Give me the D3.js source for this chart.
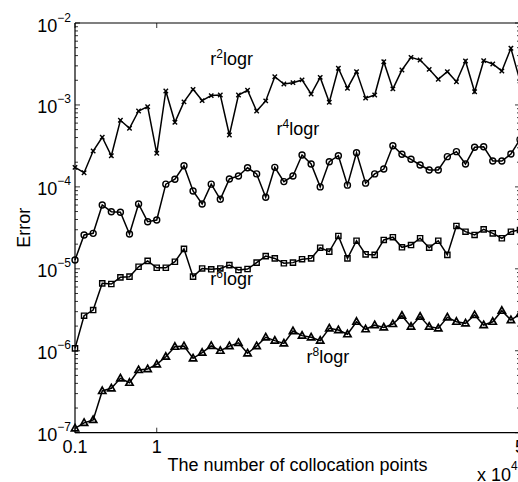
<!DOCTYPE html>
<html>
<head>
<meta charset="utf-8">
<script src="https://cdn.jsdelivr.net/npm/d3@7"></script>
<style>
  html, body { margin: 0; padding: 0; background: #fff; }
  svg { display: block; font-family: "Liberation Sans", Arial, Helvetica, sans-serif; }
</style>
</head>
<body>
<svg id="chart" width="518" height="482"></svg>
<script>
// Number of collocation points (in units of 10^4)
const points = [0.1, 0.2, 0.3, 0.4, 0.5, 0.6, 0.7, 0.8, 0.9, 1.0,
                1.1, 1.2, 1.3, 1.4, 1.5, 1.6, 1.7, 1.8, 1.9, 2.0,
                2.1, 2.2, 2.3, 2.4, 2.5, 2.6, 2.7, 2.8, 2.9, 3.0,
                3.1, 3.2, 3.3, 3.4, 3.5, 3.6, 3.7, 3.8, 3.9, 4.0,
                4.1, 4.2, 4.3, 4.4, 4.5, 4.6, 4.7, 4.8, 4.9, 5.0];

// Error for the r^2 log r basis
const errR2 = [1.73e-4, 1.49e-4, 2.74e-4, 4.03e-4, 2.40e-4, 6.50e-4, 5.19e-4, 8.43e-4, 9.52e-4, 2.57e-4,
               1.48e-3, 6.14e-4, 1.09e-3, 1.55e-3, 1.13e-3, 1.30e-3, 1.32e-3, 4.30e-4, 1.32e-3, 1.51e-3,
               8.43e-4, 1.12e-3, 2.21e-3, 1.80e-3, 1.87e-3, 2.02e-3, 1.36e-3, 2.17e-3, 1.08e-3, 2.80e-3,
               1.60e-3, 2.55e-3, 1.21e-3, 1.32e-3, 3.37e-3, 1.57e-3, 2.67e-3, 3.81e-3, 3.53e-3, 2.72e-3,
               2.06e-3, 2.55e-3, 1.92e-3, 3.44e-3, 1.45e-3, 3.47e-3, 3.16e-3, 2.60e-3, 4.91e-3, 1.96e-3];

// Error for the r^4 log r basis
const errR4 = [1.28e-5, 2.59e-5, 2.71e-5, 6.01e-5, 4.98e-5, 4.90e-5, 2.66e-5, 6.18e-5, 3.76e-5, 3.94e-5,
               1.08e-4, 1.24e-4, 1.81e-4, 8.91e-5, 6.18e-5, 1.08e-4, 7.05e-5, 1.25e-4, 1.36e-4, 1.71e-4,
               1.44e-4, 7.46e-5, 1.73e-4, 1.16e-4, 1.36e-4, 2.45e-4, 1.90e-4, 1.00e-4, 2.03e-4, 2.40e-4,
               1.05e-4, 2.61e-4, 1.11e-4, 1.44e-4, 1.65e-4, 3.18e-4, 2.50e-4, 2.17e-4, 1.85e-4, 1.61e-4,
               1.61e-4, 2.34e-4, 2.69e-4, 1.90e-4, 3.04e-4, 3.09e-4, 2.07e-4, 2.07e-4, 2.52e-4, 3.79e-4];

// Error for the r^6 log r basis
const errR6 = [1.07e-6, 2.68e-6, 3.14e-6, 6.65e-6, 6.53e-6, 7.87e-6, 8.02e-6, 1.06e-5, 1.25e-5, 1.03e-5,
               1.03e-5, 1.22e-5, 1.75e-5, 8.02e-6, 1.01e-5, 9.87e-6, 1.01e-5, 1.11e-5, 9.68e-6, 9.95e-6,
               1.19e-5, 1.43e-5, 1.34e-5, 1.17e-5, 1.19e-5, 1.31e-5, 1.34e-5, 1.81e-5, 1.62e-5, 2.52e-5,
               1.34e-5, 2.20e-5, 1.50e-5, 1.48e-5, 2.25e-5, 2.43e-5, 1.83e-5, 1.95e-5, 2.36e-5, 1.81e-5,
               2.20e-5, 1.48e-5, 3.33e-5, 2.84e-5, 2.59e-5, 3.03e-5, 2.71e-5, 2.36e-5, 2.84e-5, 2.98e-5];

// Error for the r^8 log r basis
const errR8 = [1.13e-7, 1.32e-7, 1.43e-7, 3.23e-7, 3.48e-7, 4.61e-7, 4.07e-7, 5.82e-7, 5.98e-7, 6.84e-7,
               8.46e-7, 1.12e-6, 1.14e-6, 8.09e-7, 9.47e-7, 1.15e-6, 1.00e-6, 1.14e-6, 1.25e-6, 9.31e-7,
               1.14e-6, 1.46e-6, 1.33e-6, 1.23e-6, 1.74e-6, 1.53e-6, 1.46e-6, 1.33e-6, 1.88e-6, 1.79e-6,
               1.59e-6, 2.26e-6, 1.83e-6, 2.06e-6, 1.93e-6, 2.12e-6, 2.68e-6, 1.97e-6, 2.61e-6, 1.97e-6,
               1.88e-6, 2.56e-6, 2.26e-6, 2.16e-6, 2.73e-6, 2.06e-6, 2.26e-6, 3.08e-6, 2.37e-6, 2.81e-6];

const xTicks = [0.1, 1, 5];
const yTickExps = [-7, -6, -5, -4, -3, -2];

// Curve labels: power of r and the label's baseline anchor in data units
const seriesNames = ["2", "4", "6", "8"];
const labelAt = [[1.59, 3.07e-3], [2.32, 4.30e-4], [1.59, 6.35e-6], [2.65, 7.09e-7]];

const svg = d3.select("#chart");
const x0 = 75, x1 = 520, y0 = 432.7, y1 = 23;

const x = d3.scaleLinear().domain([0.1, 5]).range([x0, x1]);
const y = d3.scaleLog().domain([1e-7, 1e-2]).range([y0, y1]);

const black = "#000";

// Axes box
const axes = svg.append("g");
axes.append("line").attr("x1", x0).attr("x2", x1).attr("y1", y0).attr("y2", y0);
axes.append("line").attr("x1", x0).attr("x2", x1).attr("y1", y1).attr("y2", y1);
axes.append("line").attr("x1", x0).attr("x2", x0).attr("y1", y0).attr("y2", y1);
axes.append("line").attr("x1", x1).attr("x2", x1).attr("y1", y0).attr("y2", y1);
axes.selectAll("line").attr("stroke", black).attr("stroke-width", 1.2);

// Y ticks: major at decades, minor at 2..9 of each decade
const majorLen = 5, minorLen = 3;
const yMinor = [];
for (let e = -7; e < -2; e++) for (let m = 2; m <= 9; m++) yMinor.push(m * Math.pow(10, e));
const tickG = svg.append("g").attr("stroke", black).attr("stroke-width", 0.8);
yTickExps.forEach(e => {
  const yy = y(Math.pow(10, e));
  tickG.append("line").attr("x1", x0).attr("x2", x0 + majorLen).attr("y1", yy).attr("y2", yy);
  tickG.append("line").attr("x1", x1).attr("x2", x1 - majorLen).attr("y1", yy).attr("y2", yy);
});
yMinor.forEach(v => {
  const yy = y(v);
  tickG.append("line").attr("x1", x0).attr("x2", x0 + minorLen).attr("y1", yy).attr("y2", yy);
  tickG.append("line").attr("x1", x1).attr("x2", x1 - minorLen).attr("y1", yy).attr("y2", yy);
});
xTicks.forEach(t => {
  const xx = x(t);
  tickG.append("line").attr("x1", xx).attr("x2", xx).attr("y1", y0).attr("y2", y0 - majorLen);
  tickG.append("line").attr("x1", xx).attr("x2", xx).attr("y1", y1).attr("y2", y1 + majorLen);
});

// Y tick labels as 10^e
yTickExps.forEach(e => {
  const yy = y(Math.pow(10, e));
  const t = svg.append("text")
    .attr("x", x0 - 4).attr("y", yy + 8.5)
    .attr("text-anchor", "end")
    .attr("font-size", 18).attr("fill", black)
    .text("10");
  t.append("tspan").attr("dy", -10).attr("font-size", 12).text("\u2212" + Math.abs(e));
});

// X tick labels
xTicks.forEach(t => {
  svg.append("text")
    .attr("x", x(t)).attr("y", 453)
    .attr("text-anchor", "middle")
    .attr("font-size", 18).attr("fill", black)
    .text(String(t));
});

// Exponent multiplier for the x axis
const mult = svg.append("text")
  .attr("x", 477).attr("y", 481)
  .attr("font-size", 18).attr("fill", black)
  .text("x 10");
mult.append("tspan").attr("dy", -11).attr("font-size", 12).text("4");

// Axis titles
svg.append("text")
  .attr("x", (x0 + x1) / 2).attr("y", 471)
  .attr("text-anchor", "middle")
  .attr("font-size", 18).attr("fill", black)
  .text("The number of collocation points");

svg.append("text")
  .attr("transform", `translate(30,${(y0 + y1) / 2}) rotate(-90)`)
  .attr("text-anchor", "middle")
  .attr("font-size", 18).attr("fill", black)
  .text("Error");

// Marker paths
const circlePath = (() => { const p = d3.path(); p.arc(0, 0, 3, 0, 2 * Math.PI); return p.toString(); })();
const markers = {
  x: "M-2.2,-2.2L2.2,2.2M-2.2,2.2L2.2,-2.2",
  o: circlePath,
  s: "M-2.6,-2.6H2.6V2.6H-2.6Z",
  t: "M0,-3.9L3.6,2.5H-3.6Z"
};

const series = [
  { values: errR2, marker: "x" },
  { values: errR4, marker: "o" },
  { values: errR6, marker: "s" },
  { values: errR8, marker: "t" }
];

const line = d3.line().x(d => x(d[0])).y(d => y(d[1]));

series.forEach(s => {
  const data = points.map((p, i) => [p, s.values[i]]);
  const g = svg.append("g");
  g.append("path")
    .attr("d", line(data))
    .attr("fill", "none")
    .attr("stroke", black)
    .attr("stroke-width", 1.5)
    .attr("stroke-linejoin", "miter");
  g.selectAll("path.m")
    .data(data)
    .join("path")
    .attr("class", "m")
    .attr("transform", d => `translate(${x(d[0])},${y(d[1])})`)
    .attr("d", markers[s.marker])
    .attr("fill", "none")
    .attr("stroke", black)
    .attr("stroke-width", s.marker === "t" ? 1.7 : 1.4);
});

// Curve labels r^n logr
seriesNames.forEach((n, i) => {
  const [lx, ly] = labelAt[i];
  const t = svg.append("text")
    .attr("x", x(lx)).attr("y", y(ly))
    .attr("font-size", 18).attr("fill", black)
    .text("r");
  t.append("tspan").attr("dy", -7).attr("font-size", 12).text(n);
  t.append("tspan").attr("dy", 7).text("logr");
});
</script>
</body>
</html>
